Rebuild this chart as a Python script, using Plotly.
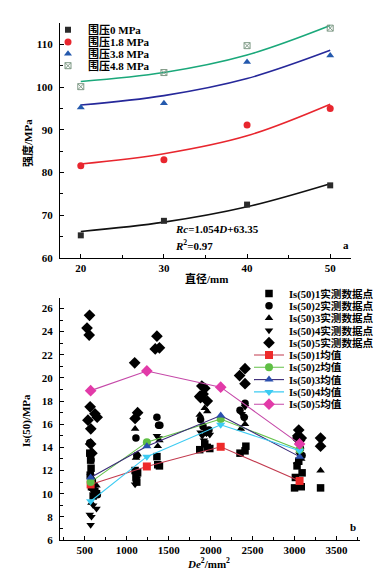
import plotly.graph_objects as go

W, H = 384, 572

# ---------------- Top chart (a) data ----------------
diam = [20, 30, 40, 50]
conf_labels = ["围压0 MPa", "围压1.8 MPa", "围压3.8 MPa", "围压4.8 MPa"]
strength_0 = [65.3, 68.7, 72.5, 77.0]
strength_18 = [81.6, 83.0, 91.1, 95.0]
strength_38 = [95.2, 96.2, 105.9, 107.4]
strength_48 = [100.1, 103.4, 109.7, 113.8]
fit_0 = [66.2, 68.4, 72.0, 77.4]
fit_18 = [82.0, 84.4, 88.6, 96.0]
fit_38 = [95.8, 98.0, 102.0, 108.6]
fit_48 = [101.3, 103.4, 107.5, 114.4]
top_xticks = [20, 30, 40, 50]
top_yticks = [60, 70, 80, 90, 100, 110]

# ---------------- Bottom chart (b) data ----------------
s1_x = [560, 570, 575, 565, 580, 600, 620, 640, 590, 1100, 1110, 1120, 1130, 1360, 1370, 1390,
        1870, 1930, 1960, 1990, 2350, 2410, 2420, 3000, 3010, 3030, 3080, 3090, 3050, 3310]
s1_y = [13.5, 12.9, 12.2, 11.6, 10.6, 9.8, 10.2, 10.0, 11.0, 12.0, 11.5, 11.0, 11.8, 13.2, 12.5, 12.4,
        13.8, 14.3, 14.0, 13.9, 13.5, 13.7, 14.1, 10.5, 11.4, 12.4, 10.6, 11.8, 12.8, 10.5]
s2_x = [560, 570, 575, 580, 600, 620, 650, 1110, 1120, 1360, 1380, 1395,
        1880, 1910, 1950, 1980, 2350, 2400, 2410, 3020, 3050, 3070, 3090]
s2_y = [14.4, 13.4, 12.9, 11.2, 10.4, 10.1, 9.9, 14.8, 13.3, 16.6, 15.9, 15.9,
        16.4, 15.8, 15.3, 15.5, 17.2, 16.6, 17.8, 14.8, 14.5, 13.9, 13.3]
s3_x = [570, 600, 640, 580, 1100, 1110, 1130, 1370, 1390, 1870, 1930, 1960, 2360, 2410, 3040, 3080, 3310]
s3_y = [11.8, 10.4, 10.7, 9.2, 15.6, 13.1, 13.4, 14.1, 14.6, 16.8, 17.4, 17.1, 15.6, 16.0, 12.8, 13.0, 12.0]
s4_x = [560, 570, 580, 600, 640, 620, 1100, 1110, 1120, 1360, 1380,
        1880, 1900, 1950, 1990, 1920, 2370, 2400, 2410, 3030, 3060]
s4_y = [8.2, 7.3, 8.0, 9.0, 8.7, 10.0, 10.8, 11.0, 11.3, 15.0, 14.8,
        15.3, 15.0, 15.2, 15.1, 14.6, 16.9, 16.5, 17.5, 12.5, 13.4]
s5_x = [557, 527, 553, 564, 621, 648, 538, 572, 570, 585, 1095, 1130, 1100, 1360, 1340, 1390,
        1895, 1870, 1910, 1960, 1880, 1930, 2410, 2345, 2410, 3050, 3040, 3080, 3060, 3310, 3310]
s5_y = [25.4, 24.3, 23.7, 17.5, 16.9, 16.6, 16.35, 15.6, 14.3, 13.5, 21.3, 17.0, 16.5, 23.6, 22.5, 22.6,
        19.3, 18.4, 18.6, 18.0, 18.3, 19.1, 20.8, 20.2, 19.5, 15.5, 15.0, 14.8, 14.6, 14.8, 14.1]
mean_x = [570, 1240, 2120, 3060]
mean1 = [10.8, 12.35, 14.05, 11.1]
mean2 = [11.0, 14.45, 16.45, 13.8]
mean3 = [11.4, 14.1, 16.75, 13.2]
mean4 = [9.35, 13.2, 15.95, 13.7]
mean5 = [18.9, 20.6, 19.2, 14.3]
pts_labels = ["Is(50)1实测数据点", "Is(50)2实测数据点", "Is(50)3实测数据点", "Is(50)4实测数据点", "Is(50)5实测数据点"]
mean_labels = ["Is(50)1均值", "Is(50)2均值", "Is(50)3均值", "Is(50)4均值", "Is(50)5均值"]
bot_xticks = [500, 1000, 1500, 2000, 2500, 3000, 3500]
bot_yticks = [6, 8, 10, 12, 14, 16, 18, 20, 22, 24, 26]

FONT = "Liberation Serif, Times New Roman, Noto Sans CJK SC, serif"


def px_x(p):
    return p / W


def px_y(p):
    return 1 - p / H


fig = go.Figure()

# ---- top chart traces ----
top_series = [
    (strength_0, fit_0, dict(symbol="square", color="#2b2b2b", size=6), "#111111"),
    (strength_18, fit_18, dict(symbol="circle", color="#e8262e", size=7), "#e8262e"),
    (strength_38, fit_38, dict(symbol="triangle-up", color="#2459ad", size=7), "#26289a"),
    (strength_48, fit_48, dict(symbol="square-x-open", color="#7f9a86", size=6, line=dict(width=1)), "#1aa87a"),
]
for i, (vals, fit, mk, lc) in enumerate(top_series):
    fig.add_trace(go.Scatter(x=diam, y=fit, mode="lines", line=dict(color=lc, width=1.6, shape="spline"),
                             xaxis="x", yaxis="y", showlegend=False, hoverinfo="skip"))
for i, (vals, fit, mk, lc) in enumerate(top_series):
    lg = "legend" if i == 0 else f"legend{i + 1}"
    fig.add_trace(go.Scatter(x=diam, y=vals, mode="markers", marker=mk, name=conf_labels[i],
                             xaxis="x", yaxis="y", legend=lg, showlegend=True))

# ---- bottom chart traces ----
pts = [(s1_x, s1_y, "square"), (s2_x, s2_y, "circle"), (s3_x, s3_y, "triangle-up"),
       (s4_x, s4_y, "triangle-down"), (s5_x, s5_y, "diamond")]
for i, (xs, ys, sym) in enumerate(pts):
    fig.add_trace(go.Scatter(x=xs, y=ys, mode="markers", name=pts_labels[i],
                             marker=dict(symbol=sym, color="black", size=7.5 if sym != "diamond" else 9),
                             xaxis="x2", yaxis="y2", legend=f"legend{5 + i}"))

means = [
    (mean1, "square", "#ee2a2a", "#c23a4e"),
    (mean2, "circle", "#5fbf45", "#64c24a"),
    (mean3, "triangle-up", "#2a4fae", "#3a2a78"),
    (mean4, "triangle-down", "#3ccbf2", "#3ccbf2"),
    (mean5, "diamond", "#e23aa8", "#c548a8"),
]
for i, (ys, sym, mc, lc) in enumerate(means):
    fig.add_trace(go.Scatter(x=mean_x, y=ys, mode="lines+markers", name=mean_labels[i],
                             line=dict(color=lc, width=1.1),
                             marker=dict(symbol=sym, color=mc, size=8 if sym != "diamond" else 9),
                             xaxis="x2", yaxis="y2", legend=f"legend{10 + i}"))

axis_common = dict(showline=True, linecolor="black", linewidth=1.2, ticks="inside", ticklen=4,
                   tickwidth=1, tickcolor="black", showgrid=False, zeroline=False, mirror=False,
                   tickfont=dict(family=FONT, size=11, color="black", weight="bold"),
                   automargin=False)

layout = dict(
    width=W, height=H, autosize=False,
    margin=dict(l=0, r=0, t=0, b=0),
    paper_bgcolor="white", plot_bgcolor="white",
    xaxis=dict(domain=[px_x(52), px_x(343)], range=[17.5, 52.5], anchor="y",
               tickvals=top_xticks, minor=dict(ticks="inside", ticklen=2.5, dtick=5, tick0=0, tickcolor="black"),
               **axis_common),
    yaxis=dict(domain=[px_y(250), px_y(15)], range=[60, 115], anchor="x",
               tickvals=top_yticks, minor=dict(ticks="inside", ticklen=2.5, dtick=5, tick0=0, tickcolor="black"),
               ticklabelstandoff=4, **axis_common),
    xaxis2=dict(domain=[px_x(52), px_x(352)], range=[205, 3780], anchor="y2",
                tickvals=bot_xticks, minor=dict(ticks="inside", ticklen=2.5, dtick=250, tick0=0, tickcolor="black"),
                **axis_common),
    yaxis2=dict(domain=[px_y(532), px_y(290)], range=[6, 26.9], anchor="x2",
                tickvals=bot_yticks, minor=dict(ticks="inside", ticklen=2.5, dtick=1, tick0=0, tickcolor="black"),
                ticklabelstandoff=4, **axis_common),
    showlegend=True,
)

# ---- legends: one per entry so that row spacing matches the reference ----
top_rows = [21.7, 33.9, 45.8, 57.7]
bot_rows = [285.5 + 12.3 * k for k in range(10)]
for i in range(14):
    key = "legend" if i == 0 else f"legend{i + 1}"
    if i < 4:
        lx, ly, fs = 82 - 42, top_rows[i], 11
    else:
        lx, ly, fs = 283 - 42, bot_rows[i - 4], 10.6
    layout[key] = dict(x=px_x(lx), y=px_y(ly), xanchor="left", yanchor="middle",
                       xref="paper", yref="paper",
                       bgcolor="rgba(0,0,0,0)", borderwidth=0,
                       font=dict(family=FONT, size=fs, color="black", weight="bold"),
                       itemclick=False, itemdoubleclick=False)

fig.update_layout(**layout)

ann_font = dict(family=FONT, size=11, color="black", weight="bold")
annotations = [
    dict(text="直径/mm", x=px_x(198), y=px_y(270), xanchor="center", yanchor="middle"),
    dict(text="强度/MPa", x=px_x(19), y=px_y(135), xanchor="center", yanchor="middle", textangle=-90),
    dict(text="<i>Rc</i>=1.054<i>D</i>+63.35", x=px_x(165), y=px_y(221), xanchor="left", yanchor="middle"),
    dict(text="<i>R</i><sup>2</sup>=0.97", x=px_x(165), y=px_y(237), xanchor="left", yanchor="middle"),
    dict(text="a", x=px_x(338), y=px_y(237), xanchor="center", yanchor="middle"),
    dict(text="<i>De</i><sup>2</sup>/mm<sup>2</sup>", x=px_x(200), y=px_y(555), xanchor="center", yanchor="middle"),
    dict(text="Is(50)/MPa", x=px_x(19), y=px_y(413), xanchor="center", yanchor="middle", textangle=-90),
    dict(text="b", x=px_x(345), y=px_y(519), xanchor="center", yanchor="middle"),
]
for a in annotations:
    a.update(xref="paper", yref="paper", showarrow=False, font=ann_font)
fig.update_layout(annotations=annotations)

fig.write_html("out.html")
